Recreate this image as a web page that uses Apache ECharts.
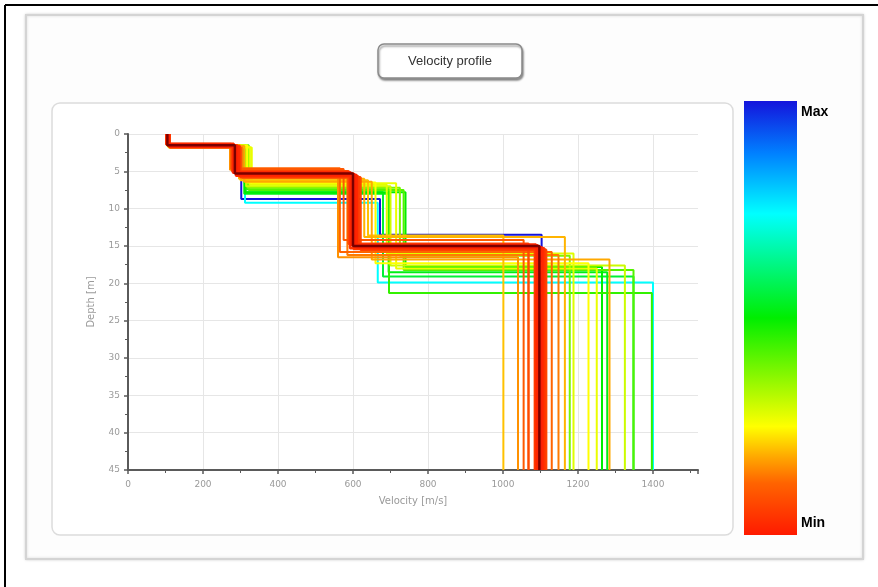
<!DOCTYPE html>
<html><head><meta charset="utf-8">
<script src="https://cdn.jsdelivr.net/npm/echarts@6/dist/echarts.min.js"></script>
<style>html,body{margin:0;padding:0;background:#fff}#c{width:878px;height:587px}</style>
</head><body><div id="c"></div>
<script>
// Relative misfit of each profile (0 = Min / red, 1 = Max / blue)
const misfit = [0.00,0.01,0.02,0.02,0.03,0.04,0.05,0.06,0.08,0.07,
                0.10,0.12,0.14,0.16,0.19,0.20,0.18,
                0.25,0.28,0.30,0.27,
                0.38,0.42,0.45,0.50,0.55,0.52,0.74,1.00];
// Layer velocities [m/s]
const vLayer1 = [105,108,103,110,106,104,109,107,102,111,
                 105,108,112,106,110,104,107,
                 109,112,105,108,
                 110,106,108,111,107,109,108,108];
const vLayer2 = [285,290,280,295,288,282,298,292,278,300,
                 275,285,305,272,296,300,310,
                 318,325,315,330,
                 320,322,316,312,314,310,312,302];
const vLayer3 = [600,605,595,610,598,592,615,602,588,620,
                 575,565,585,560,630,640,650,
                 660,690,700,715,
                 725,735,696,740,680,695,666,672];
const vHalf   = [1097,1100,1092,1105,1088,1110,1095,1085,1068,1115,
                 1055,1130,1148,1040,1165,1001,1284,
                 1228,1188,1325,1250,
                 1178,1348,1397,1264,1348,1278,1400,1103];
// Layer bottom depths [m]
const zBase1  = [1.5,1.6,1.4,1.7,1.5,1.3,1.6,1.5,1.4,1.8,
                 1.3,1.6,1.8,1.4,1.7,1.5,1.6,
                 1.5,1.7,1.6,1.8,
                 1.6,1.5,1.7,1.6,1.5,1.6,1.6,1.5];
const zBase2  = [5.3,5.4,5.2,5.5,5.6,5.1,5.7,5.3,5.0,5.8,
                 4.7,4.6,5.9,4.8,6.0,6.2,6.4,
                 6.5,6.8,7.0,6.6,
                 7.2,7.5,7.4,7.8,7.8,8.0,9.2,8.7];
const zBase3  = [15.0,15.1,14.9,15.2,14.8,15.3,15.0,15.4,14.7,15.5,
                 14.2,15.8,16.2,16.5,13.8,13.6,16.8,
                 17.3,16.0,17.6,18.0,
                 16.3,18.2,21.3,17.8,19.1,18.5,19.9,13.5];
const maxDepth = 45;

const cmap = [[0,'#ff1a00'],[0.12,'#ff6400'],[0.18,'#ffa800'],[0.25,'#ffff00'],
              [0.5,'#00ee00'],[0.74,'#00ffff'],[0.88,'#0080ff'],[1,'#1414dc']];
function hex(c){return [1,3,5].map(i=>parseInt(c.substr(i,2),16));}
function colorOf(t){
  for(let k=1;k<cmap.length;k++){
    if(t<=cmap[k][0]){
      const a=cmap[k-1],b=cmap[k],f=(t-a[0])/(b[0]-a[0]);
      const ca=hex(a[1]),cb=hex(b[1]);
      return 'rgb('+ca.map((v,i)=>Math.round(v+(cb[i]-v)*f)).join(',')+')';
    }
  }
  return cmap[cmap.length-1][1];
}

const order = misfit.map((m,i)=>i).sort((a,b)=>misfit[b]-misfit[a]);
const series = order.map(i=>({
  type:'line', silent:true, showSymbol:false, animation:false,
  lineStyle:{width: misfit[i]<0.1 ? 2.5 : 2, color: i===0 ? '#7a0000' : colorOf(misfit[i])},
  z: 2,
  data:[[vLayer1[i],0],[vLayer1[i],zBase1[i]],[vLayer2[i],zBase1[i]],[vLayer2[i],zBase2[i]],
        [vLayer3[i],zBase2[i]],[vLayer3[i],zBase3[i]],[vHalf[i],zBase3[i]],[vHalf[i],maxDepth]]
}));

const chart = echarts.init(document.getElementById('c'),null,{renderer:'canvas'});
const axisCol='#5a5a5a', labCol='#9a9a9a';
chart.setOption({
  animation:false,
  grid:{left:128,right:180,top:134,bottom:117},
  xAxis:{type:'value',min:0,max:1520,interval:200,
    name:'Velocity [m/s]',nameLocation:'middle',nameGap:26,
    nameTextStyle:{color:labCol,fontSize:10,fontFamily:'DejaVu Sans'},
    axisLine:{onZero:false,lineStyle:{color:axisCol,width:2}},
    axisTick:{show:true,length:4,lineStyle:{color:axisCol,width:1.5}},
    minorTick:{show:true,splitNumber:2,length:3,lineStyle:{color:axisCol}},
    axisLabel:{color:labCol,fontSize:9,margin:10,showMaxLabel:false,fontFamily:'DejaVu Sans',
      formatter:v=>String(v)},
    splitLine:{show:true,showMinLine:false,showMaxLine:false,lineStyle:{color:'#e6e6e6',width:1}}},
  yAxis:{type:'value',inverse:true,min:0,max:maxDepth,interval:5,
    name:'Depth [m]',nameLocation:'middle',nameGap:32,
    nameTextStyle:{color:labCol,fontSize:10,fontFamily:'DejaVu Sans'},
    axisLine:{show:true,onZero:false,lineStyle:{color:axisCol,width:2}},
    axisTick:{show:true,length:4,lineStyle:{color:axisCol,width:1.5}},
    minorTick:{show:true,splitNumber:2,length:3,lineStyle:{color:axisCol}},
    axisLabel:{color:labCol,fontSize:9,margin:8,fontFamily:'DejaVu Sans'},
    splitLine:{show:true,showMaxLine:false,lineStyle:{color:'#e6e6e6',width:1}}},
  graphic:[
    {type:'line',z:-20,shape:{x1:5,y1:5,x2:878,y2:5},style:{stroke:'#000',lineWidth:2}},
    {type:'line',z:-20,shape:{x1:5,y1:5,x2:5,y2:587},style:{stroke:'#000',lineWidth:2}},
    {type:'rect',z:-19,shape:{x:26,y:15,width:837,height:544},
      style:{fill:'#fdfdfd',stroke:'#d4d4d4',lineWidth:2,shadowBlur:3,shadowColor:'rgba(0,0,0,0.15)'}},
    {type:'rect',z:-18,shape:{x:52,y:103,width:681,height:432,r:8},
      style:{fill:'#fff',stroke:'#dcdcdc',lineWidth:1.5}},
    {type:'rect',z:10,shape:{x:378,y:44,width:144,height:34,r:6},
      style:{fill:'#fff',stroke:'#8a8a8a',lineWidth:1.5,shadowBlur:2,shadowOffsetX:1,shadowOffsetY:2,shadowColor:'rgba(0,0,0,0.4)'}},
    {type:'text',z:11,x:450,y:61,style:{text:'Velocity profile',fill:'#333',font:'13px "Liberation Sans"',align:'center',verticalAlign:'middle'}},
    {type:'rect',z:10,shape:{x:744,y:101,width:53,height:434},
      style:{fill:new echarts.graphic.LinearGradient(0,0,0,1,cmap.slice().reverse().map(s=>({offset:1-s[0],color:s[1]})))}},
    {type:'text',z:11,x:801,y:112,style:{text:'Max',fill:'#000',font:'bold 14px "Liberation Sans"',align:'left',verticalAlign:'middle'}},
    {type:'text',z:11,x:801,y:523,style:{text:'Min',fill:'#000',font:'bold 14px "Liberation Sans"',align:'left',verticalAlign:'middle'}}
  ],
  series:series
});
</script></body></html>
